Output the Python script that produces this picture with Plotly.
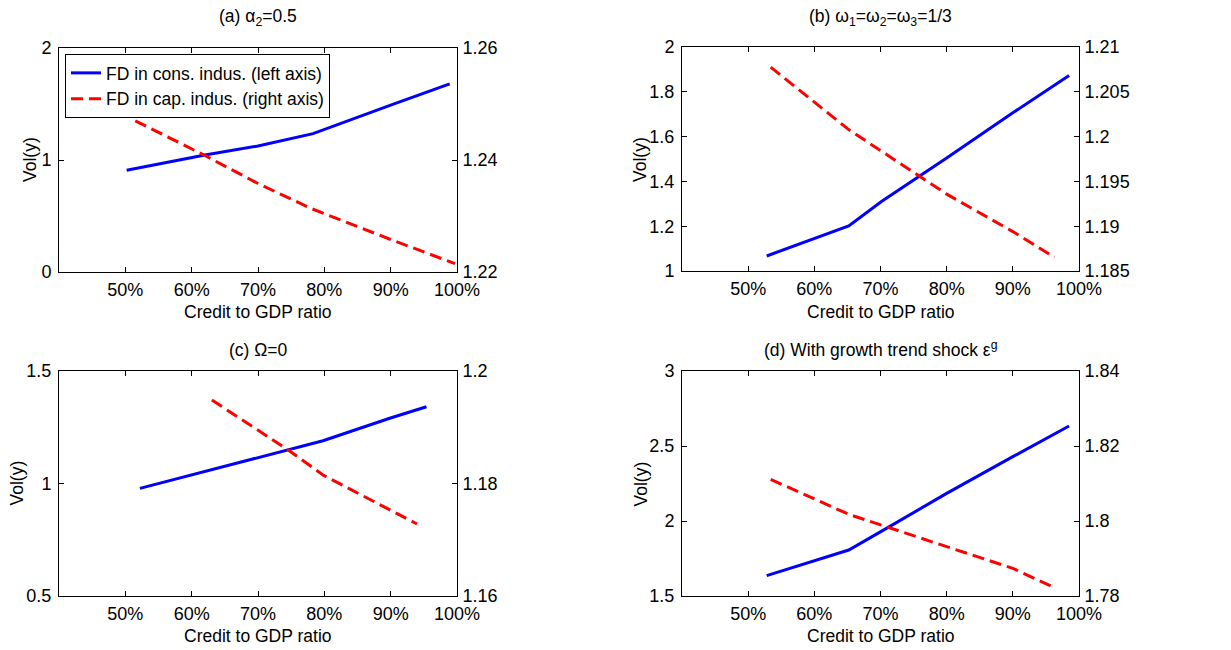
import plotly.graph_objects as go

W, H = 1231, 650

# ---------------- data ----------------
# Panel (a)
a_blue_x = [0.502, 0.62, 0.70, 0.783, 0.90, 0.989]
a_blue_y = [0.908, 1.045, 1.125, 1.235, 1.49, 1.68]
a_red_x = [0.515, 0.62, 0.70, 0.781, 0.90, 0.997]
a_red_y = [1.2470, 1.2408, 1.2358, 1.2313, 1.2258, 1.2215]

# Panel (b)
b_blue_x = [0.528, 0.652, 0.7015, 0.80, 0.90, 0.985]
b_blue_y = [1.067, 1.2015, 1.31, 1.504, 1.706, 1.873]
b_red_x = [0.534, 0.652, 0.80, 0.90, 0.963]
b_red_y = [1.20776, 1.20078, 1.19358, 1.1894, 1.18653]

# Panel (c)
c_blue_x = [0.522, 0.6325, 0.798, 0.8986, 0.954]
c_blue_y = [0.9785, 1.0644, 1.190, 1.290, 1.341]
c_red_x = [0.6305, 0.7455, 0.798, 0.9397]
c_red_y = [1.19484, 1.18596, 1.18151, 1.1728]

# Panel (d)
d_blue_x = [0.528, 0.652, 0.709, 0.80, 0.90, 0.985]
d_blue_y = [1.6356, 1.8067, 1.951, 2.184, 2.429, 2.633]
d_red_x = [0.534, 0.652, 0.80, 0.90, 0.965]
d_red_y = [1.8111, 1.80178, 1.79316, 1.78738, 1.78204]

x_tickvals = [0.5, 0.6, 0.7, 0.8, 0.9, 1.0]
x_ticktext = ["50%", "60%", "70%", "80%", "90%", "100%"]

left_ticks = {
    "a": ([0, 1, 2], ["0", "1", "2"]),
    "b": ([1, 1.2, 1.4, 1.6, 1.8, 2], ["1", "1.2", "1.4", "1.6", "1.8", "2"]),
    "c": ([0.5, 1, 1.5], ["0.5", "1", "1.5"]),
    "d": ([1.5, 2, 2.5, 3], ["1.5", "2", "2.5", "3"]),
}
right_ticks = {
    "a": ([1.22, 1.24, 1.26], ["1.22", "1.24", "1.26"]),
    "b": ([1.185, 1.19, 1.195, 1.2, 1.205, 1.21],
          ["1.185", "1.19", "1.195", "1.2", "1.205", "1.21"]),
    "c": ([1.16, 1.18, 1.2], ["1.16", "1.18", "1.2"]),
    "d": ([1.78, 1.8, 1.82, 1.84], ["1.78", "1.8", "1.82", "1.84"]),
}

titles = {
    "a": "(a) α<sub>2</sub>=0.5",
    "b": "(b) ω<sub>1</sub>=ω<sub>2</sub>=ω<sub>3</sub>=1/3",
    "c": "(c) Ω=0",
    "d": "(d) With growth trend shock ε<sup>g</sup>",
}
series_names = ["FD in cons. indus. (left axis)", "FD in cap. indus. (right axis)"]
x_title = "Credit to GDP ratio"
y_title = "Vol(y)"

data = {
    "a": (a_blue_x, a_blue_y, a_red_x, a_red_y),
    "b": (b_blue_x, b_blue_y, b_red_x, b_red_y),
    "c": (c_blue_x, c_blue_y, c_red_x, c_red_y),
    "d": (d_blue_x, d_blue_y, d_red_x, d_red_y),
}

# ---------------- layout geometry (pixels) ----------------
panels = {
    # key: (left, right, top, bottom, ytitle_x, title_y, xtitle_y)
    "a": (59, 457, 48, 272, 30, 17, 312),
    "b": (682, 1079, 47, 271, 640, 17, 312),
    "c": (59, 457, 371, 596, 16, 350, 636),
    "d": (682, 1079, 371, 596, 640, 349, 636),
}

FONT = "Liberation Sans, Arial, Helvetica, sans-serif"
FS = 17.5
TFS = 18

def fx(px):
    return px / W

def fy(py):
    return 1 - py / H

fig = go.Figure()
layout = dict(
    width=W, height=H,
    margin=dict(l=0, r=0, t=0, b=0, autoexpand=False),
    paper_bgcolor="white", plot_bgcolor="white",
    font=dict(family=FONT, size=FS, color="black"),
    showlegend=True,
    annotations=[],
)

for i, key in enumerate(["a", "b", "c", "d"]):
    l, r, t, b, ytx, tty, xty = panels[key]
    xn = i + 1
    yl = 2 * i + 1
    yr = 2 * i + 2
    xname = "x" if xn == 1 else f"x{xn}"
    ylname = "y" if yl == 1 else f"y{yl}"
    yrname = f"y{yr}"
    bx, by, rx, ry = data[key]

    fig.add_trace(go.Scatter(
        x=bx, y=by, mode="lines", name=series_names[0],
        line=dict(color="#0000FF", width=3),
        xaxis=xname, yaxis=ylname, showlegend=(key == "a")))
    fig.add_trace(go.Scatter(
        x=rx, y=ry, mode="lines", name=series_names[1],
        line=dict(color="#FF0000", width=3, dash="12px,6px"),
        xaxis=xname, yaxis=yrname, showlegend=(key == "a")))

    axis_common = dict(showgrid=False, zeroline=False, showline=True,
                       linecolor="black", linewidth=1, ticks="inside",
                       ticklen=5, tickcolor="black", automargin=False,
                       tickfont=dict(family=FONT, size=TFS, color="black"))

    layout["xaxis" if xn == 1 else f"xaxis{xn}"] = dict(
        axis_common, domain=[fx(l), fx(r)], anchor=ylname,
        range=[0.4, 1.0], tickvals=x_tickvals, ticktext=x_ticktext,
        mirror="ticks", ticklabelstandoff=1)

    lv, lt = left_ticks[key]
    rv, rt = right_ticks[key]
    layout["yaxis" if yl == 1 else f"yaxis{yl}"] = dict(
        axis_common, domain=[fy(b), fy(t)], anchor=xname,
        range=[lv[0], lv[-1]], tickvals=lv, ticktext=lt, side="left",
        ticklabelstandoff=3)
    layout[f"yaxis{yr}"] = dict(
        axis_common, anchor=xname, overlaying=ylname, side="right",
        range=[rv[0], rv[-1]], tickvals=rv, ticktext=rt,
        ticklabelstandoff=1)

    cx = (l + r) / 2
    layout["annotations"].append(dict(
        text=titles[key], x=fx(cx), y=fy(tty), xref="paper", yref="paper",
        xanchor="center", yanchor="middle", showarrow=False,
        font=dict(family=FONT, size=FS)))
    layout["annotations"].append(dict(
        text=x_title, x=fx(cx), y=fy(xty), xref="paper", yref="paper",
        xanchor="center", yanchor="middle", showarrow=False,
        font=dict(family=FONT, size=FS)))
    layout["annotations"].append(dict(
        text=y_title, x=fx(ytx), y=fy((t + b) / 2), xref="paper", yref="paper",
        xanchor="center", yanchor="middle", showarrow=False, textangle=-90,
        font=dict(family=FONT, size=FS)))

layout["legend"] = dict(
    x=fx(65), y=fy(54), xanchor="left", yanchor="top",
    bgcolor="white", bordercolor="black", borderwidth=1,
    font=dict(family=FONT, size=FS), tracegroupgap=0,
    itemwidth=30)

fig.update_layout(**layout)
fig.write_html("out.html")
